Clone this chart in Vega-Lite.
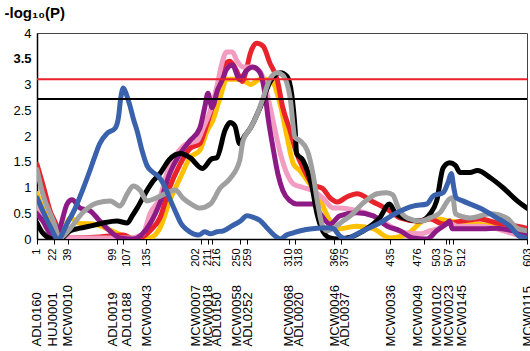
{
"$schema": "https://vega.github.io/schema/vega-lite/v6.json",
"width": 490, "height": 206,
"autosize": "none",
"padding": {"left": 37, "top": 33, "right": 3, "bottom": 112},
"config": {"view": {"stroke": "#444", "strokeWidth": 1}, "font": "Liberation Sans", "axis": {"grid": false, "labelColor": "#000", "titleColor": "#000"}},
"datasets": {
"curves": [
{"s":"yellow","p":1,"v":0.88},{"s":"yellow","p":8,"v":0.6},{"s":"yellow","p":17,"v":0.3},{"s":"yellow","p":26,"v":0.05},{"s":"yellow","p":29,"v":0.0},{"s":"yellow","p":42,"v":0.41},{"s":"yellow","p":54,"v":0.3},{"s":"yellow","p":70,"v":0.29},{"s":"yellow","p":94,"v":0.15},{"s":"yellow","p":109,"v":0.05},{"s":"yellow","p":131,"v":0.0},{"s":"yellow","p":140,"v":0.02},{"s":"yellow","p":152,"v":0.21},{"s":"yellow","p":164,"v":0.74},{"s":"yellow","p":177,"v":1.19},{"s":"yellow","p":189,"v":1.58},{"s":"yellow","p":201,"v":1.72},{"s":"yellow","p":210,"v":2.1},{"s":"yellow","p":217,"v":2.3},{"s":"yellow","p":226,"v":2.75},{"s":"yellow","p":234,"v":3.1},{"s":"yellow","p":247,"v":3.1},{"s":"yellow","p":259,"v":3.04},{"s":"yellow","p":263,"v":3.0},{"s":"yellow","p":275,"v":3.1},{"s":"yellow","p":287,"v":3.1},{"s":"yellow","p":300,"v":2.6},{"s":"yellow","p":308,"v":2.0},{"s":"yellow","p":316,"v":1.46},{"s":"yellow","p":324,"v":1.33},{"s":"yellow","p":336,"v":1.07},{"s":"yellow","p":349,"v":0.75},{"s":"yellow","p":361,"v":0.35},{"s":"yellow","p":373,"v":0.2},{"s":"yellow","p":394,"v":0.25},{"s":"yellow","p":414,"v":0.2},{"s":"yellow","p":435,"v":0.02},{"s":"yellow","p":456,"v":0.1},{"s":"yellow","p":475,"v":0.35},{"s":"yellow","p":488,"v":0.4},{"s":"yellow","p":508,"v":0.35},{"s":"yellow","p":545,"v":0.28},{"s":"yellow","p":570,"v":0.25},{"s":"yellow","p":603,"v":0.1},
{"s":"red","p":1,"v":1.45},{"s":"red","p":8,"v":1.07},{"s":"red","p":17,"v":0.55},{"s":"red","p":26,"v":0.21},{"s":"red","p":29,"v":0.02},{"s":"red","p":42,"v":0.02},{"s":"red","p":78,"v":0.04},{"s":"red","p":107,"v":0.08},{"s":"red","p":119,"v":0.0},{"s":"red","p":128,"v":0.02},{"s":"red","p":140,"v":0.16},{"s":"red","p":152,"v":0.41},{"s":"red","p":164,"v":1.0},{"s":"red","p":177,"v":1.46},{"s":"red","p":189,"v":1.76},{"s":"red","p":201,"v":1.85},{"s":"red","p":207,"v":2.1},{"s":"red","p":214,"v":2.44},{"s":"red","p":222,"v":2.89},{"s":"red","p":229,"v":3.34},{"s":"red","p":238,"v":3.45},{"s":"red","p":247,"v":3.24},{"s":"red","p":253,"v":3.06},{"s":"red","p":259,"v":3.34},{"s":"red","p":263,"v":3.6},{"s":"red","p":271,"v":3.8},{"s":"red","p":279,"v":3.74},{"s":"red","p":287,"v":3.42},{"s":"red","p":296,"v":3.1},{"s":"red","p":303,"v":2.55},{"s":"red","p":312,"v":2.1},{"s":"red","p":320,"v":1.66},{"s":"red","p":328,"v":1.38},{"s":"red","p":340,"v":1.05},{"s":"red","p":352,"v":0.98},{"s":"red","p":361,"v":0.8},{"s":"red","p":370,"v":0.72},{"s":"red","p":382,"v":0.82},{"s":"red","p":394,"v":0.88},{"s":"red","p":414,"v":0.72},{"s":"red","p":431,"v":0.58},{"s":"red","p":447,"v":0.41},{"s":"red","p":468,"v":0.35},{"s":"red","p":484,"v":0.39},{"s":"red","p":500,"v":0.29},{"s":"red","p":524,"v":0.35},{"s":"red","p":545,"v":0.39},{"s":"red","p":566,"v":0.31},{"s":"red","p":591,"v":0.25},{"s":"red","p":603,"v":0.21},
{"s":"pink","p":1,"v":0.64},{"s":"pink","p":11,"v":0.4},{"s":"pink","p":21,"v":0.15},{"s":"pink","p":29,"v":0.02},{"s":"pink","p":54,"v":0.02},{"s":"pink","p":94,"v":0.02},{"s":"pink","p":115,"v":0.02},{"s":"pink","p":131,"v":0.1},{"s":"pink","p":140,"v":0.5},{"s":"pink","p":152,"v":0.8},{"s":"pink","p":161,"v":1.3},{"s":"pink","p":173,"v":1.66},{"s":"pink","p":185,"v":1.85},{"s":"pink","p":198,"v":1.91},{"s":"pink","p":205,"v":2.15},{"s":"pink","p":214,"v":2.5},{"s":"pink","p":222,"v":2.96},{"s":"pink","p":228,"v":3.4},{"s":"pink","p":234,"v":3.63},{"s":"pink","p":241,"v":3.63},{"s":"pink","p":247,"v":3.45},{"s":"pink","p":254,"v":3.34},{"s":"pink","p":263,"v":3.34},{"s":"pink","p":271,"v":3.3},{"s":"pink","p":277,"v":3.2},{"s":"pink","p":284,"v":2.8},{"s":"pink","p":291,"v":2.3},{"s":"pink","p":300,"v":1.66},{"s":"pink","p":308,"v":1.27},{"s":"pink","p":316,"v":1.07},{"s":"pink","p":328,"v":1.0},{"s":"pink","p":340,"v":0.94},{"s":"pink","p":352,"v":0.8},{"s":"pink","p":365,"v":0.6},{"s":"pink","p":373,"v":0.6},{"s":"pink","p":394,"v":0.55},{"s":"pink","p":414,"v":0.45},{"s":"pink","p":435,"v":0.25},{"s":"pink","p":453,"v":0.12},{"s":"pink","p":472,"v":0.1},{"s":"pink","p":484,"v":0.16},{"s":"pink","p":496,"v":0.21},{"s":"pink","p":508,"v":0.31},{"s":"pink","p":517,"v":0.25},{"s":"pink","p":545,"v":0.25},{"s":"pink","p":566,"v":0.2},{"s":"pink","p":586,"v":0.1},{"s":"pink","p":603,"v":0.02},
{"s":"purple","p":1,"v":0.49},{"s":"purple","p":8,"v":0.35},{"s":"purple","p":17,"v":0.1},{"s":"purple","p":21,"v":0.02},{"s":"purple","p":29,"v":0.21},{"s":"purple","p":38,"v":0.68},{"s":"purple","p":44,"v":0.76},{"s":"purple","p":54,"v":0.6},{"s":"purple","p":66,"v":0.55},{"s":"purple","p":78,"v":0.35},{"s":"purple","p":91,"v":0.15},{"s":"purple","p":103,"v":0.02},{"s":"purple","p":119,"v":0.0},{"s":"purple","p":140,"v":0.3},{"s":"purple","p":152,"v":0.7},{"s":"purple","p":164,"v":1.27},{"s":"purple","p":177,"v":1.66},{"s":"purple","p":189,"v":1.91},{"s":"purple","p":201,"v":2.15},{"s":"purple","p":207,"v":2.55},{"s":"purple","p":211,"v":2.83},{"s":"purple","p":216,"v":2.55},{"s":"purple","p":223,"v":2.9},{"s":"purple","p":229,"v":3.1},{"s":"purple","p":234,"v":3.3},{"s":"purple","p":241,"v":3.38},{"s":"purple","p":250,"v":3.1},{"s":"purple","p":259,"v":3.28},{"s":"purple","p":266,"v":3.34},{"s":"purple","p":275,"v":3.23},{"s":"purple","p":281,"v":2.83},{"s":"purple","p":285,"v":2.34},{"s":"purple","p":291,"v":1.77},{"s":"purple","p":297,"v":1.26},{"s":"purple","p":303,"v":0.94},{"s":"purple","p":312,"v":0.74},{"s":"purple","p":320,"v":0.68},{"s":"purple","p":340,"v":0.68},{"s":"purple","p":349,"v":0.49},{"s":"purple","p":361,"v":0.29},{"s":"purple","p":373,"v":0.45},{"s":"purple","p":394,"v":0.51},{"s":"purple","p":414,"v":0.45},{"s":"purple","p":431,"v":0.25},{"s":"purple","p":447,"v":0.16},{"s":"purple","p":463,"v":0.02},{"s":"purple","p":480,"v":0.0},{"s":"purple","p":492,"v":0.16},{"s":"purple","p":505,"v":0.31},{"s":"purple","p":508,"v":0.35},{"s":"purple","p":511,"v":0.2},{"s":"purple","p":524,"v":0.2},{"s":"purple","p":549,"v":0.2},{"s":"purple","p":566,"v":0.21},{"s":"purple","p":586,"v":0.16},{"s":"purple","p":603,"v":0.1},
{"s":"black","p":1,"v":0.31},{"s":"black","p":8,"v":0.12},{"s":"black","p":21,"v":0.0},{"s":"black","p":29,"v":0.0},{"s":"black","p":42,"v":0.16},{"s":"black","p":54,"v":0.21},{"s":"black","p":66,"v":0.25},{"s":"black","p":82,"v":0.31},{"s":"black","p":99,"v":0.35},{"s":"black","p":112,"v":0.31},{"s":"black","p":118,"v":0.45},{"s":"black","p":124,"v":0.6},{"s":"black","p":136,"v":0.94},{"s":"black","p":144,"v":1.13},{"s":"black","p":152,"v":1.27},{"s":"black","p":164,"v":1.55},{"s":"black","p":177,"v":1.66},{"s":"black","p":189,"v":1.58},{"s":"black","p":204,"v":1.37},{"s":"black","p":216,"v":1.56},{"s":"black","p":222,"v":1.58},{"s":"black","p":232,"v":2.11},{"s":"black","p":238,"v":2.26},{"s":"black","p":244,"v":2.2},{"s":"black","p":250,"v":1.85},{"s":"black","p":256,"v":2.0},{"s":"black","p":263,"v":2.15},{"s":"black","p":275,"v":2.55},{"s":"black","p":287,"v":3.04},{"s":"black","p":300,"v":3.23},{"s":"black","p":308,"v":3.16},{"s":"black","p":314,"v":2.8},{"s":"black","p":318,"v":2.15},{"s":"black","p":320,"v":1.66},{"s":"black","p":328,"v":1.52},{"s":"black","p":339,"v":1.0},{"s":"black","p":345,"v":0.49},{"s":"black","p":352,"v":0.16},{"s":"black","p":361,"v":0.02},{"s":"black","p":370,"v":0.0},{"s":"black","p":382,"v":0.02},{"s":"black","p":402,"v":0.16},{"s":"black","p":422,"v":0.41},{"s":"black","p":434,"v":0.68},{"s":"black","p":441,"v":0.51},{"s":"black","p":451,"v":0.41},{"s":"black","p":472,"v":0.35},{"s":"black","p":484,"v":0.49},{"s":"black","p":492,"v":0.74},{"s":"black","p":500,"v":1.38},{"s":"black","p":508,"v":1.48},{"s":"black","p":515,"v":1.43},{"s":"black","p":521,"v":1.29},{"s":"black","p":533,"v":1.29},{"s":"black","p":542,"v":1.33},{"s":"black","p":558,"v":1.19},{"s":"black","p":574,"v":0.99},{"s":"black","p":591,"v":0.74},{"s":"black","p":603,"v":0.6},
{"s":"gray","p":1,"v":1.35},{"s":"gray","p":8,"v":0.88},{"s":"gray","p":21,"v":0.35},{"s":"gray","p":29,"v":0.02},{"s":"gray","p":42,"v":0.21},{"s":"gray","p":57,"v":0.51},{"s":"gray","p":75,"v":0.7},{"s":"gray","p":91,"v":0.74},{"s":"gray","p":103,"v":0.64},{"s":"gray","p":112,"v":0.88},{"s":"gray","p":119,"v":1.03},{"s":"gray","p":128,"v":0.94},{"s":"gray","p":136,"v":0.74},{"s":"gray","p":148,"v":0.8},{"s":"gray","p":161,"v":0.9},{"s":"gray","p":171,"v":0.95},{"s":"gray","p":180,"v":0.8},{"s":"gray","p":190,"v":0.68},{"s":"gray","p":201,"v":0.6},{"s":"gray","p":214,"v":0.68},{"s":"gray","p":226,"v":0.99},{"s":"gray","p":238,"v":1.17},{"s":"gray","p":250,"v":1.52},{"s":"gray","p":254,"v":1.9},{"s":"gray","p":263,"v":2.15},{"s":"gray","p":271,"v":2.4},{"s":"gray","p":279,"v":2.75},{"s":"gray","p":287,"v":3.1},{"s":"gray","p":296,"v":3.23},{"s":"gray","p":303,"v":3.18},{"s":"gray","p":312,"v":2.74},{"s":"gray","p":318,"v":1.97},{"s":"gray","p":324,"v":1.91},{"s":"gray","p":333,"v":1.72},{"s":"gray","p":340,"v":1.27},{"s":"gray","p":346,"v":0.68},{"s":"gray","p":351,"v":0.29},{"s":"gray","p":357,"v":0.16},{"s":"gray","p":365,"v":0.21},{"s":"gray","p":377,"v":0.35},{"s":"gray","p":386,"v":0.45},{"s":"gray","p":402,"v":0.7},{"s":"gray","p":419,"v":0.88},{"s":"gray","p":431,"v":0.9},{"s":"gray","p":438,"v":0.86},{"s":"gray","p":445,"v":0.6},{"s":"gray","p":456,"v":0.41},{"s":"gray","p":472,"v":0.35},{"s":"gray","p":484,"v":0.41},{"s":"gray","p":496,"v":0.51},{"s":"gray","p":508,"v":0.78},{"s":"gray","p":512,"v":0.8},{"s":"gray","p":515,"v":0.49},{"s":"gray","p":533,"v":0.41},{"s":"gray","p":558,"v":0.49},{"s":"gray","p":578,"v":0.41},{"s":"gray","p":591,"v":0.21},{"s":"gray","p":603,"v":0.16},
{"s":"blue","p":1,"v":0.8},{"s":"blue","p":8,"v":0.55},{"s":"blue","p":17,"v":0.25},{"s":"blue","p":27,"v":0.0},{"s":"blue","p":38,"v":0.3},{"s":"blue","p":48,"v":0.6},{"s":"blue","p":57,"v":0.95},{"s":"blue","p":66,"v":1.33},{"s":"blue","p":72,"v":1.6},{"s":"blue","p":78,"v":1.85},{"s":"blue","p":87,"v":2.05},{"s":"blue","p":97,"v":2.15},{"s":"blue","p":101,"v":2.35},{"s":"blue","p":104,"v":2.75},{"s":"blue","p":107,"v":2.93},{"s":"blue","p":111,"v":2.8},{"s":"blue","p":115,"v":2.6},{"s":"blue","p":120,"v":2.3},{"s":"blue","p":124,"v":2.1},{"s":"blue","p":130,"v":1.72},{"s":"blue","p":136,"v":1.43},{"s":"blue","p":143,"v":1.3},{"s":"blue","p":150,"v":1.22},{"s":"blue","p":157,"v":1.05},{"s":"blue","p":165,"v":0.75},{"s":"blue","p":172,"v":0.5},{"s":"blue","p":178,"v":0.3},{"s":"blue","p":185,"v":0.18},{"s":"blue","p":193,"v":0.1},{"s":"blue","p":200,"v":0.08},{"s":"blue","p":207,"v":0.14},{"s":"blue","p":214,"v":0.1},{"s":"blue","p":222,"v":0.14},{"s":"blue","p":230,"v":0.16},{"s":"blue","p":240,"v":0.25},{"s":"blue","p":251,"v":0.35},{"s":"blue","p":259,"v":0.45},{"s":"blue","p":267,"v":0.42},{"s":"blue","p":275,"v":0.36},{"s":"blue","p":284,"v":0.21},{"s":"blue","p":292,"v":0.08},{"s":"blue","p":300,"v":0.0},{"s":"blue","p":308,"v":0.08},{"s":"blue","p":316,"v":0.12},{"s":"blue","p":330,"v":0.18},{"s":"blue","p":345,"v":0.21},{"s":"blue","p":358,"v":0.22},{"s":"blue","p":365,"v":0.2},{"s":"blue","p":373,"v":0.06},{"s":"blue","p":382,"v":0.0},{"s":"blue","p":392,"v":0.08},{"s":"blue","p":402,"v":0.16},{"s":"blue","p":422,"v":0.31},{"s":"blue","p":443,"v":0.51},{"s":"blue","p":463,"v":0.64},{"s":"blue","p":480,"v":0.68},{"s":"blue","p":488,"v":0.84},{"s":"blue","p":500,"v":0.9},{"s":"blue","p":506,"v":1.1},{"s":"blue","p":510,"v":1.27},{"s":"blue","p":513,"v":1.0},{"s":"blue","p":516,"v":0.8},{"s":"blue","p":524,"v":0.74},{"s":"blue","p":545,"v":0.6},{"s":"blue","p":566,"v":0.41},{"s":"blue","p":582,"v":0.25},{"s":"blue","p":594,"v":0.05},{"s":"blue","p":603,"v":0.02},
{"s":"thrR","p":1,"v":3.1},{"s":"thrR","p":603,"v":3.1},
{"s":"thrK","p":1,"v":2.72},{"s":"thrK","p":603,"v":2.72}
],
"markers": [
{"p":1,"name":"ADL0160"},{"p":22,"name":"HUJ0001"},{"p":39,"name":"MCW0010"},{"p":99,"name":"ADL0019"},{"p":107,"name":"ADL0188"},{"p":135,"name":"MCW0043"},{"p":202,"name":"MCW0007"},{"p":211,"name":"MCW0018"},{"p":216,"name":"ADL0150"},{"p":250,"name":"MCW0058"},{"p":259,"name":"ADL0252"},{"p":310,"name":"MCW0068"},{"p":318,"name":"ADL0020"},{"p":366,"name":"MCW0046"},{"p":375,"name":"ADL0037"},{"p":435,"name":"MCW0036"},{"p":476,"name":"MCW0049"},{"p":503,"name":"MCW0102"},{"p":507,"name":"MCW0023"},{"p":512,"name":"MCW0145"},{"p":603,"name":"MCW0115"}
]
},
"layer": [
{
"data": {"name": "curves"},
"encoding": {
"x": {"field": "p", "type": "quantitative", "scale": {"domain": [1, 603], "nice": false, "zero": false},
"axis": {"values": [1,22,39,99,107,135,202,211,216,250,259,310,318,366,375,435,476,503,507,512,603], "format": "d", "title": null,
"labelAngle": 270, "labelAlign": "right", "labelBaseline": "middle", "labelFontSize": 11, "labelPadding": 4,
"tickColor": "#000", "tickSize": 5, "domainColor": "#000", "domainWidth": 1.5, "labelOverlap": false, "labelFlush": false, "labelBound": false,
"labelOffset": {"condition": [{"test": "datum.value == 1", "value": -1}, {"test": "datum.value == 22", "value": -2}, {"test": "datum.value == 99", "value": -4}, {"test": "datum.value == 107", "value": 3}, {"test": "datum.value == 202", "value": -5}, {"test": "datum.value == 216", "value": 4}, {"test": "datum.value == 250", "value": -3}, {"test": "datum.value == 318", "value": 3}, {"test": "datum.value == 375", "value": 3}, {"test": "datum.value == 476", "value": -6}, {"test": "datum.value == 503", "value": -9}, {"test": "datum.value == 512", "value": 9}], "value": 0}}},
"y": {"field": "v", "type": "quantitative", "scale": {"domain": [0, 4], "nice": false, "zero": true},
"axis": {"values": [0,0.5,1,1.5,2,2.5,3,3.5,4], "format": "~g", "ticks": false, "labelFontSize": 13, "labelPadding": 6, "domainColor": "#000", "domainWidth": 1.5, "labelFlush": false, "labelOverlap": false,
"labelFontWeight": {"condition": {"test": "datum.value == 3.5", "value": "bold"}, "value": "normal"},
"title": "-log₁₀(P)", "titleAngle": 0, "titleAlign": "left", "titleBaseline": "middle", "titleX": -33, "titleY": -21, "titleFontSize": 15, "titleFontWeight": "bold"}}
},
"layer": [
{"transform": [{"filter": "datum.s == 'yellow'"}], "mark": {"type": "line", "color": "#ffc000", "strokeWidth": 5, "interpolate": "monotone", "strokeCap": "round", "strokeJoin": "round", "clip": true}},
{"transform": [{"filter": "datum.s == 'red'"}], "mark": {"type": "line", "color": "#e8232b", "strokeWidth": 5, "interpolate": "monotone", "strokeCap": "round", "strokeJoin": "round", "clip": true}},
{"transform": [{"filter": "datum.s == 'pink'"}], "mark": {"type": "line", "color": "#f29cc2", "strokeWidth": 5, "interpolate": "monotone", "strokeCap": "round", "strokeJoin": "round", "clip": true}},
{"transform": [{"filter": "datum.s == 'purple'"}], "mark": {"type": "line", "color": "#8e1a86", "strokeWidth": 5, "interpolate": "monotone", "strokeCap": "round", "strokeJoin": "round", "clip": true}},
{"transform": [{"filter": "datum.s == 'black'"}], "mark": {"type": "line", "color": "#000000", "strokeWidth": 5, "interpolate": "monotone", "strokeCap": "round", "strokeJoin": "round", "clip": true}},
{"transform": [{"filter": "datum.s == 'gray'"}], "mark": {"type": "line", "color": "#a0a0a0", "strokeWidth": 5, "interpolate": "monotone", "strokeCap": "round", "strokeJoin": "round", "clip": true}},
{"transform": [{"filter": "datum.s == 'blue'"}], "mark": {"type": "line", "color": "#3a62ac", "strokeWidth": 5, "interpolate": "monotone", "strokeCap": "round", "strokeJoin": "round", "clip": true}},
{"transform": [{"filter": "datum.s == 'thrR'"}], "mark": {"type": "line", "color": "#e8232b", "strokeWidth": 2}},
{"transform": [{"filter": "datum.s == 'thrK'"}], "mark": {"type": "line", "color": "#000000", "strokeWidth": 2}}
]
},
{
"data": {"name": "markers"},
"mark": {"type": "point", "opacity": 0},
"encoding": {
"x": {"field": "p", "type": "quantitative", "scale": {"domain": [1, 603], "nice": false, "zero": false},
"axis": {"orient": "bottom", "values": [1,22,39,99,107,135,202,211,216,250,259,310,318,366,375,435,476,503,507,512,603], "title": null,
"labelExpr": "['ADL0160','HUJ0001','MCW0010','ADL0019','ADL0188','MCW0043','MCW0007','MCW0018','ADL0150','MCW0058','ADL0252','MCW0068','ADL0020','MCW0046','ADL0037','MCW0036','MCW0049','MCW0102','MCW0023','MCW0145','MCW0115'][indexof([1,22,39,99,107,135,202,211,216,250,259,310,318,366,375,435,476,503,507,512,603], datum.value)]",
"labelAngle": 270, "labelAlign": "left", "labelBaseline": "middle", "labelFontSize": 13, "labelPadding": 107, "ticks": false, "domain": false, "labelOverlap": false, "labelFlush": false, "labelBound": false,
"labelOffset": {"condition": [{"test": "datum.value == 1", "value": -1}, {"test": "datum.value == 22", "value": -2}, {"test": "datum.value == 99", "value": -4}, {"test": "datum.value == 107", "value": 3}, {"test": "datum.value == 202", "value": -5}, {"test": "datum.value == 216", "value": 4}, {"test": "datum.value == 250", "value": -3}, {"test": "datum.value == 318", "value": 3}, {"test": "datum.value == 375", "value": 3}, {"test": "datum.value == 476", "value": -6}, {"test": "datum.value == 503", "value": -9}, {"test": "datum.value == 512", "value": 9}], "value": 0}}}
}
}
],
"resolve": {"scale": {"x": "independent"}}
}
